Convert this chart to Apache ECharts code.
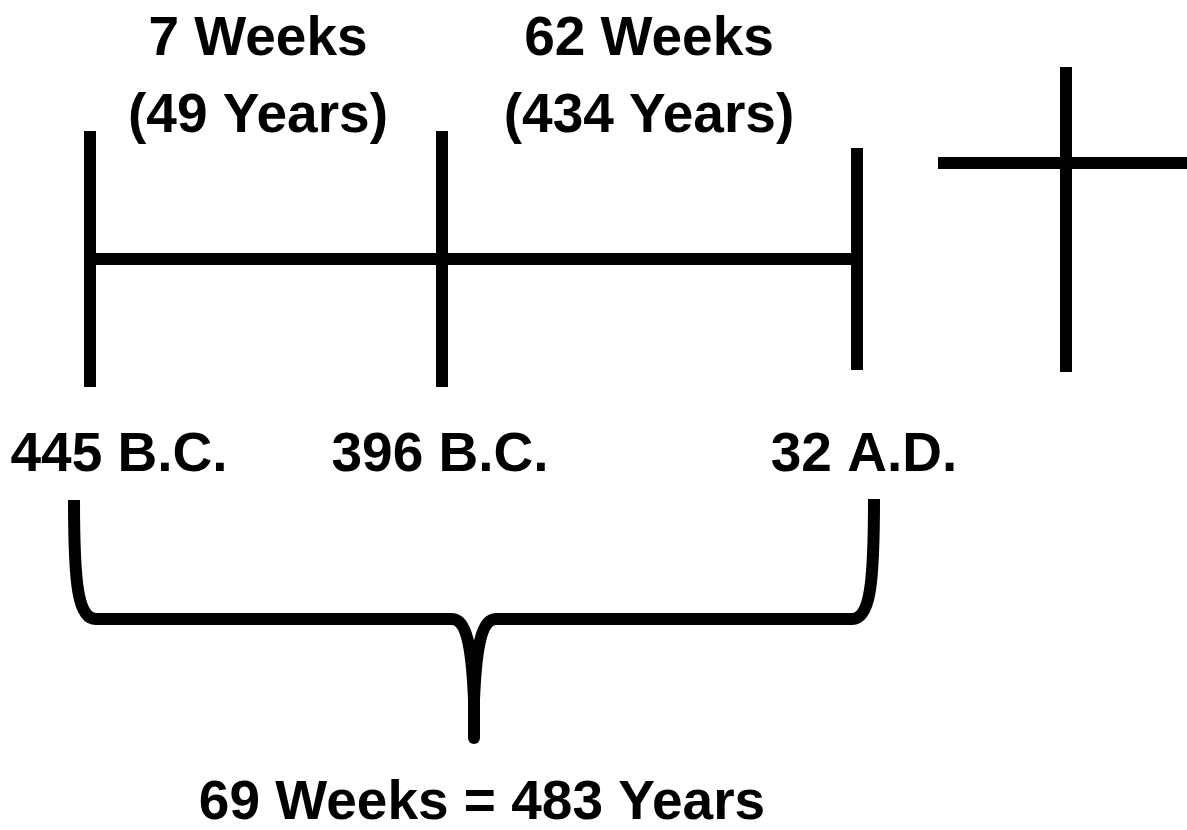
<!DOCTYPE html>
<html>
<head>
<meta charset="utf-8">
<script src="https://cdn.jsdelivr.net/npm/echarts@6/dist/echarts.min.js"></script>
<style>
  html, body { margin: 0; padding: 0; background: #fff; }
  #chart { width: 1187px; height: 830px; }
</style>
</head>
<body>
<div id="chart"></div>
<script>
// ---- content ----
const dateLabels = ['445 B.C.', '396 B.C.', '32 A.D.'];
const periodWeeks = [7, 62];
const periodYears = [49, 434];
const totalWeeks = 69;
const totalYears = 483;

// ---- layout (diagram coordinates, y grows downward) ----
const markerX = [90, 442, 857];
const markerTop = [131, 131, 148];
const markerBottom = [387, 387, 370];
const barY = 259;
const labelY = 456;
const labelX = [119, 440, 864];
const periodX = [258, 649];
const periodY = 78;
const crossX = 1066, crossTop = 67, crossBottom = 372;
const crossArmY = 163, crossArmLeft = 938, crossArmRight = 1187;
const totalX = 482, totalY = 804;

const INK = '#000000';
const LW = 12;
const FONT = "'Liberation Sans', Arial, sans-serif";

const chart = echarts.init(document.getElementById('chart'), null, { renderer: 'canvas' });

function seg(name, pts) {
  return {
    type: 'line', name: name, data: pts, showSymbol: false, silent: true,
    lineStyle: { color: INK, width: LW, cap: 'butt' }, animation: false
  };
}

const series = [];
markerX.forEach((x, i) => series.push(seg('marker' + i, [[x, markerTop[i]], [x, markerBottom[i]]])));
series.push(seg('bar', [[markerX[0], barY], [markerX[2], barY]]));
series.push(seg('crossV', [[crossX, crossTop], [crossX, crossBottom]]));
series.push(seg('crossH', [[crossArmLeft, crossArmY], [crossArmRight, crossArmY]]));

// brace under the timeline
series.push({
  type: 'custom', name: 'brace', silent: true, animation: false,
  data: [[0, 0]],
  renderItem: function (params, api) {
    const c = p => api.coord(p);
    const st = { stroke: INK, lineWidth: LW, fill: null, lineCap: 'butt', lineJoin: 'round' };
    function bez(a, b, d, e) {
      const A = c(a), B = c(b), D = c(d), E = c(e);
      return { type: 'bezierCurve', shape: { x1: A[0], y1: A[1], cpx1: B[0], cpy1: B[1], cpx2: D[0], cpy2: D[1], x2: E[0], y2: E[1] }, style: st };
    }
    function ln(a, b, cap) {
      const A = c(a), B = c(b);
      return { type: 'line', shape: { x1: A[0], y1: A[1], x2: B[0], y2: B[1] }, style: Object.assign({}, st, { lineCap: cap || 'butt' }) };
    }
    return {
      type: 'group',
      children: [
        bez([74, 500], [74, 585], [78, 619], [96, 619]),
        ln([95, 619], [453, 619]),
        bez([452, 619], [467, 619], [472, 650], [474, 700]),
        bez([474, 700], [476, 650], [481, 619], [496, 619]),
        ln([474, 698], [474, 738], 'round'),
        ln([495, 619], [853, 619]),
        bez([852, 619], [870, 619], [874, 585], [874, 499])
      ]
    };
  }
});

// texts
const textPts = [];
dateLabels.forEach((t, i) => textPts.push([labelX[i], labelY, t]));
periodWeeks.forEach((w, i) => textPts.push([periodX[i], periodY, w + ' Weeks\n(' + periodYears[i] + ' Years)']));
textPts.push([totalX, totalY, totalWeeks + ' Weeks = ' + totalYears + ' Years']);

series.push({
  type: 'custom', name: 'texts', silent: true, animation: false,
  data: textPts,
  renderItem: function (params, api) {
    const p = api.coord([api.value(0), api.value(1)]);
    return {
      type: 'text',
      x: p[0], y: p[1],
      style: {
        text: textPts[params.dataIndex][2],
        fill: INK,
        font: 'bold 55px ' + FONT,
        lineHeight: 77,
        align: 'center',
        verticalAlign: 'middle'
      }
    };
  }
});

chart.setOption({
  backgroundColor: '#ffffff',
  animation: false,
  grid: { left: 0, right: 0, top: 0, bottom: 0 },
  xAxis: { type: 'value', min: 0, max: 1187, show: false },
  yAxis: { type: 'value', min: 0, max: 830, inverse: true, show: false },
  series: series
});
</script>
</body>
</html>
